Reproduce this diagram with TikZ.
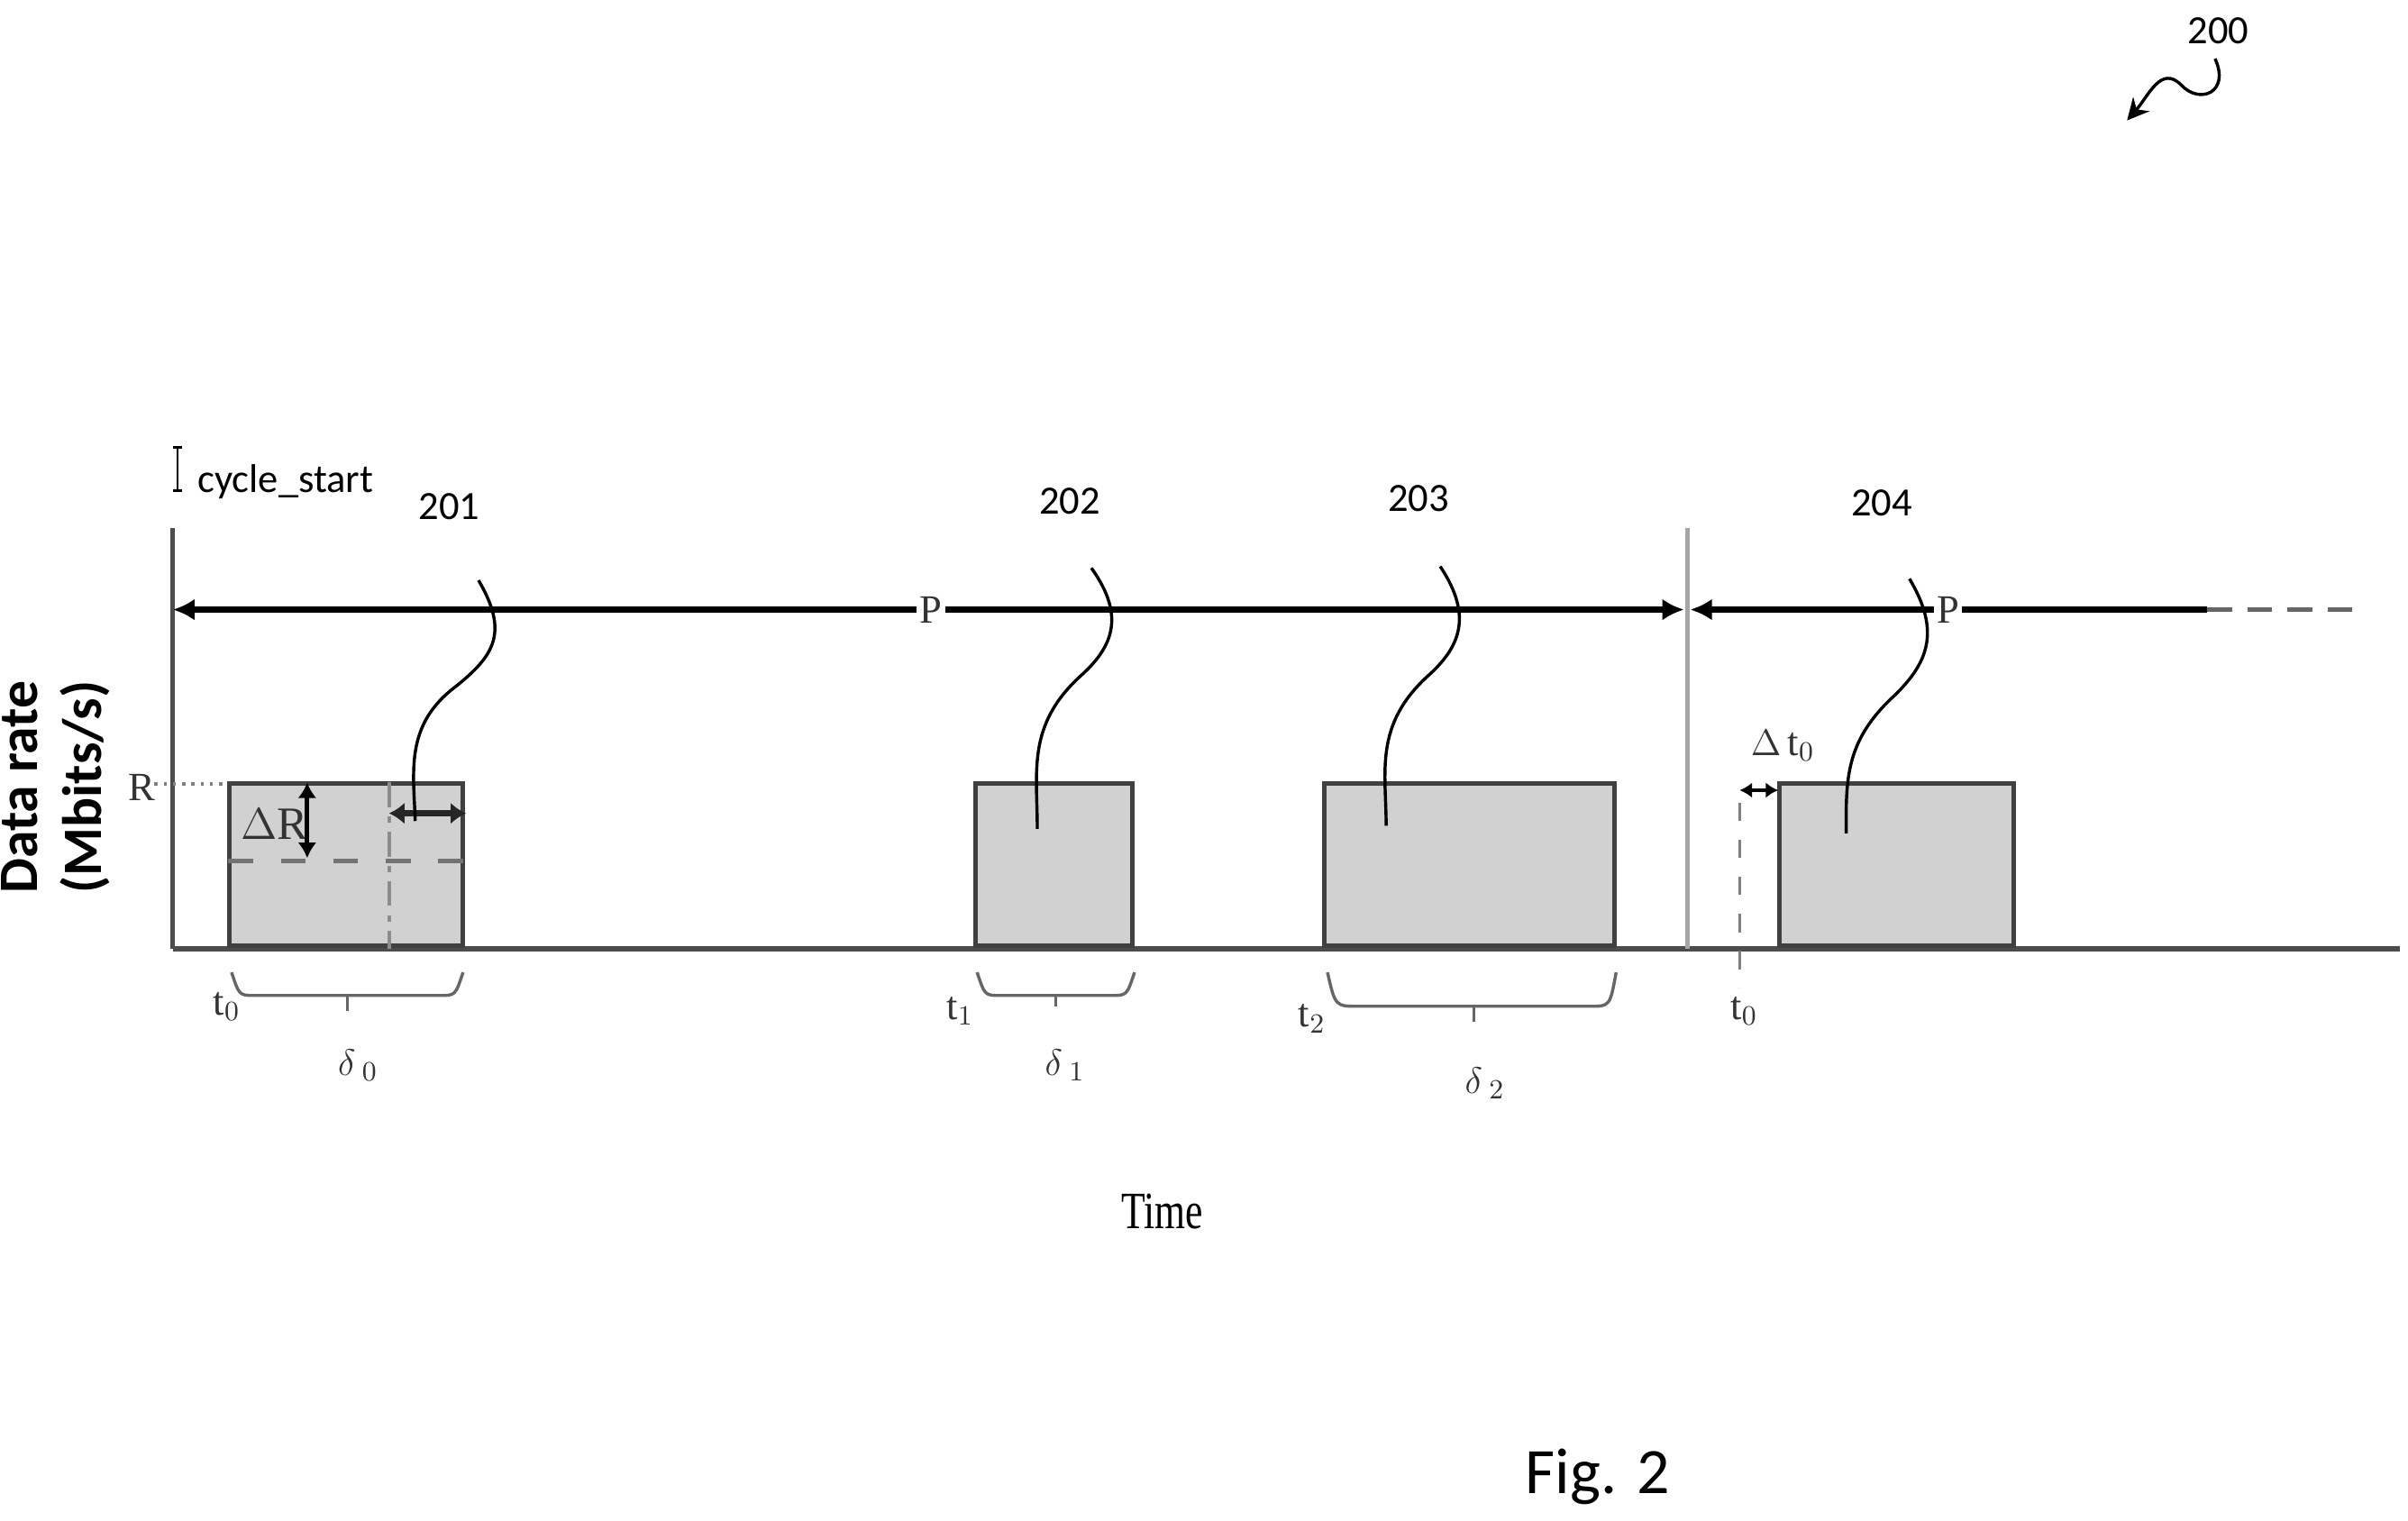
\documentclass[tikz,border=0pt]{standalone}
\usepackage{fontspec}
\setmainfont{Carlito}
\newfontfamily\lbl{Liberation Serif}
\usetikzlibrary{arrows.meta}
\begin{document}
\begin{tikzpicture}[x=0.5pt,y=-0.5pt,
  box/.style={fill=black!18,draw=black!75,line width=1.5pt,inner sep=0,outer sep=0},
  dim/.style={line width=1.8pt,{Latex[length=7pt,width=7pt]}-{Latex[length=7pt,width=7pt]}},
  lead/.style={line width=1pt},
  num/.style={font=\fontsize{13}{13}\selectfont},
  sym/.style={font=\lbl\fontsize{13}{13}\selectfont,text=black!80},
  brace/.style={draw=black!60,line width=1pt}]
\useasboundingbox (0,0) rectangle (1560,985);
% axes
\draw[line width=1.5pt,black!70] (112,342) -- (112,615);
\draw[line width=1.8pt,black!70] (112,615) -- (1555,615);
\draw[line width=1.5pt,black!35] (1093,342) -- (1093,615);
% cycle start
\draw[line width=0.8pt] (115,290) -- (115,318) (112,290)--(118,290) (112,318)--(118,318);
\node[num,anchor=west] (cs) at (121,312) {cycle\_start};
% boxes
\node[box,minimum width=75.5pt,minimum height=52.5pt,anchor=north west] (b201) at (148.75,507.75) {};
\node[box,minimum width=51pt,minimum height=52.5pt,anchor=north west] (b202) at (631.75,507.75) {};
\node[box,minimum width=94pt,minimum height=52.5pt,anchor=north west] (b203) at (857.75,507.75) {};
\node[box,minimum width=76pt,minimum height=52.5pt,anchor=north west] (b204) at (1152.75,507.75) {};
% P arrows
\coordinate (p1a) at (112,395); \coordinate (p1b) at (1091,395);
\coordinate (p2a) at (1095,395); \coordinate (p2b) at (1430,395); \coordinate (p2c) at (1525,395);
\draw[dim] (p1a) -- (p1b);
\draw[line width=1.8pt,{Latex[length=7pt,width=7pt]}-] (p2a) -- (p2b);
\draw[line width=1.5pt,black!60,dash pattern=on 8pt off 5pt] (p2b) -- (p2c);
\node[sym,fill=white,inner sep=1pt] (P1) at (603,395) {P};
\node[sym,fill=white,inner sep=1pt] (P2) at (1262,395) {P};
% R
\node[sym] (R) at (92,510) {R};
\draw[black!50,dotted,line width=1pt] (100,508) -- (148,508);
% Delta R
\node[sym,font=\lbl\fontsize{15}{15}\selectfont] (dR) at (178,534) {$\Delta$R};
\coordinate (dra) at (199,507); \coordinate (drb) at (199,556);
\draw[line width=1.5pt,{Latex[length=5pt,width=6pt]}-{Latex[length=5pt,width=6pt]}] (dra) -- (drb);
\draw[black!55,line width=1.5pt,dash pattern=on 8pt off 9pt] (148,558) -- (302,558);
\draw[black!45,line width=1.2pt,dash pattern=on 8pt off 3pt on 2pt off 3pt] (252,507) -- (252,615);
\coordinate (hra) at (252,527); \coordinate (hrb) at (302,527);
\draw[line width=2pt,black!85,{Latex[length=5pt,width=7pt]}-{Latex[length=5pt,width=7pt]}] (hra) -- (hrb);
% braces
\draw[brace] (150,630) .. controls (155,645) .. (165,645) -- (285,645) .. controls (295,645) .. (300,630);
\draw[brace] (225,645) -- (225,655);
\draw[brace] (633,630) .. controls (638,645) .. (648,645) -- (720,645) .. controls (730,645) .. (735,630);
\draw[brace] (684,645) -- (684,652);
\draw[brace] (860,630) .. controls (865,652) .. (880,652) -- (1030,652) .. controls (1043,652) .. (1047,630);
\draw[brace] (955,652) -- (955,662);
\node[sym] (t0) at (147,652) {t$_0$};
\node[sym] (d0) at (232,690) {$\delta$\,$_0$};
\node[sym] (t1) at (622,655) {t$_1$};
\node[sym] (d1) at (690,690) {$\delta$\,$_1$};
\node[sym] (t2) at (850,660) {t$_2$};
\node[sym] (d2) at (962,702) {$\delta$\,$_2$};
\node[sym] (t0b) at (1130,655) {t$_0$};
% delta t0
\draw[black!50,line width=0.8pt,dash pattern=on 6pt off 6pt] (1127,520) -- (1127,640);
\coordinate (dta) at (1127,512); \coordinate (dtb) at (1152,512);
\draw[line width=1.3pt,{Latex[length=4pt,width=5pt]}-{Latex[length=4pt,width=5pt]}] (dta) -- (dtb);
\node[sym] (dt) at (1155,483) {$\Delta$\,t$_0$};
% labels and leaders
\node[num] (n201) at (291,328) {201};
\node[num] (n202) at (693,325) {202};
\node[num] (n203) at (919,323) {203};
\node[num] (n204) at (1219,326) {204};
\draw[lead] (310,376) .. controls (330,410) and (320,425) .. (295,445) .. controls (262,470) and (268,500) .. (269,532);
\draw[lead] (707,368) .. controls (730,400) and (720,420) .. (700,438) .. controls (665,470) and (672,500) .. (672,537);
\draw[lead] (933,367) .. controls (955,400) and (945,420) .. (925,438) .. controls (890,470) and (898,500) .. (898,535);
\draw[lead] (1237,375) .. controls (1258,410) and (1248,430) .. (1228,450) .. controls (1195,480) and (1196,505) .. (1196,540);
% axis labels
\node[font=\bfseries\fontsize{18}{21}\selectfont,rotate=90,align=center] (yl) at (36,510) {Data rate\\(Mbits/s)};
\node[font=\lbl\fontsize{17}{17}\selectfont,xscale=0.75] (time) at (753,785) {Time};
\node[font=\fontsize{21}{21}\selectfont] (fig) at (1035,957) {Fig. 2};
\node[num] (n200) at (1437,20) {200};
\draw[line width=1pt,-{Stealth[length=7pt,width=7pt]}] (1435,38) .. controls (1445,60) and (1425,68) .. (1413,55) .. controls (1400,42) and (1392,62) .. (1378,78);
\end{tikzpicture}
\end{document}
